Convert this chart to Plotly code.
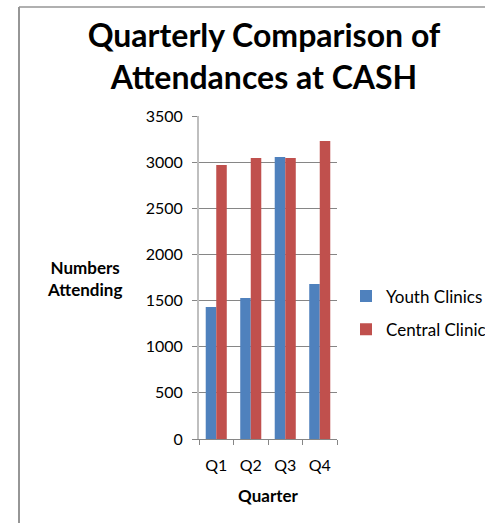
import plotly.graph_objects as go

quarters = ["Q1", "Q2", "Q3", "Q4"]
youth_clinics = [1430, 1528, 3055, 1679]
central_clinic = [2968, 3044, 3044, 3229]
y_ticks = [0, 500, 1000, 1500, 2000, 2500, 3000, 3500]

FONT = "Lato, 'Open Sans', sans-serif"

fig = go.Figure()
fig.add_trace(go.Bar(x=quarters, y=youth_clinics, name="Youth Clinics",
                     marker=dict(color="#4F81BD", line=dict(width=0)), legendgroup="a"))
fig.add_trace(go.Bar(x=quarters, y=central_clinic, name="Central Clinic",
                     marker=dict(color="#C0504D", line=dict(width=0)), legendgroup="b"))

W, H = 485, 523
L, R, T, B = 199, 148, 116, 84
pw, ph = W - L - R, H - T - B

def px(x):
    return (x - L) / pw

def py(y):
    return (H - B - y) / ph

fig.update_layout(
    width=W, height=H,
    margin=dict(l=L, r=R, t=T, b=B, pad=0, autoexpand=False),
    paper_bgcolor="white", plot_bgcolor="white",
    barmode="group", bargap=0.39, bargroupgap=0,
    font=dict(family=FONT, size=16, color="#000000"),
    title=dict(text="<b>Quarterly Comparison of<br>Attendances at CASH</b>",
               x=px(264), xref="paper", xanchor="center",
               y=1 - 47 / H, yanchor="middle",
               font=dict(family=FONT, size=32, color="#000000")),
    showlegend=True,
    legend=dict(x=px(346), y=py(313), xanchor="left", yanchor="middle",
                font=dict(family=FONT, size=17, color="#000000"),
                tracegroupgap=8, bgcolor="rgba(0,0,0,0)"),
    xaxis=dict(showgrid=False, showline=True, linecolor="#868686", linewidth=1,
               ticks="outside", ticklen=5, tickcolor="#868686",
               tickson="boundaries", tickfont=dict(family=FONT, size=16),
               ticklabelstandoff=12,
               title=dict(text="<b>Quarter</b>", font=dict(family=FONT, size=17), standoff=16)),
    yaxis=dict(range=[0, 3500], tickvals=y_ticks, showgrid=True, gridcolor="#868686",
               gridwidth=1, showline=True, linecolor="#BFBFBF", linewidth=2,
               ticks="outside", ticklen=5, tickcolor="#868686", ticklabelstandoff=6,
               tickfont=dict(family=FONT, size=16), zeroline=False),
    annotations=[dict(text="<b>Numbers<br>Attending</b>", x=px(84), y=py(278),
                      xref="paper", yref="paper", showarrow=False,
                      font=dict(family=FONT, size=17), xanchor="center", yanchor="middle")],
    shapes=[
        dict(type="line", xref="paper", yref="paper", x0=px(19), x1=px(490), y0=py(7), y1=py(7),
             line=dict(color="#969696", width=1.5)),
        dict(type="line", xref="paper", yref="paper", x0=px(19), x1=px(19), y0=py(7), y1=py(530),
             line=dict(color="#969696", width=2)),
    ],
)

fig.write_html("out.html", config={"displayModeBar": False},
               post_script="document.body.style.margin='0';document.body.style.overflow='hidden';")
